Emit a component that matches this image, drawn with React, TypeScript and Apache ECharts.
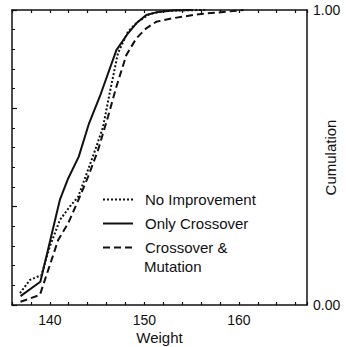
import React, { useEffect, useRef } from "react";
import * as echarts from "echarts";

const seriesNames = ["No Improvement", "Only Crossover", "Crossover & Mutation"];

const noImprovement: [number, number][] = [
  [136.84, 0.04], [137.9, 0.085], [138.85, 0.098], [139.1, 0.1], [140.0, 0.198],
  [141.06, 0.288], [142.1, 0.333], [143.0, 0.367], [143.9, 0.446], [144.93, 0.537],
  [145.63, 0.604], [146.33, 0.718], [147.2, 0.853], [148.27, 0.927], [149.3, 0.96],
  [150.55, 0.986], [152.0, 0.996], [154.0, 0.999], [156.6, 1.0],
];

const onlyCrossover: [number, number][] = [
  [136.9, 0.03], [139.0, 0.079], [141.06, 0.356], [141.94, 0.429], [143.06, 0.503],
  [144.15, 0.616], [145.28, 0.706], [147.04, 0.864], [148.27, 0.921], [149.15, 0.955],
  [150.2, 0.983], [151.25, 0.992], [153.0, 0.998], [155.0, 1.0],
];

const crossoverMutation: [number, number][] = [
  [136.9, 0.011], [138.95, 0.034], [139.48, 0.085], [140.88, 0.22], [141.94, 0.277],
  [143.17, 0.367], [144.05, 0.435], [145.1, 0.525], [146.15, 0.638], [147.04, 0.74],
  [148.09, 0.847], [149.15, 0.904], [150.2, 0.938], [151.25, 0.96], [153.0, 0.972],
  [155.8, 0.986], [158.6, 0.994], [160.5, 1.0],
];

const xMajorLabels = [140, 150, 160];
const yLabels = ["0.00", "1.00"];

const FONT = "'Liberation Sans', Arial, Helvetica, sans-serif";
const INK = "#111";

export default function App() {
  const ref = useRef<HTMLDivElement>(null);

  useEffect(() => {
    if (!ref.current) return;
    const chart = echarts.init(ref.current, undefined, { renderer: "svg" });
    const lineBase = { type: "line", showSymbol: false, symbol: "none", smooth: false };
    const xCommon = {
      type: "value",
      min: 136,
      max: 167.2,
      interval: 2,
      axisLine: { show: true, onZero: false, lineStyle: { color: INK, width: 1.5 } },
      axisTick: { show: true, inside: true, length: 3, lineStyle: { color: INK, width: 1.2 } },
      splitLine: { show: false },
    };
    chart.setOption({
      animation: false,
      backgroundColor: "#fff",
      grid: { left: 12, right: 39, top: 10, bottom: 42, containLabel: false, outerBoundsMode: "none" },
      xAxis: [
        {
          ...xCommon,
          position: "bottom",
          name: "Weight",
          nameLocation: "middle",
          nameGap: 25,
          nameMoveOverlap: false,
          nameTextStyle: { fontFamily: FONT, fontSize: 15, color: INK },
          axisLabel: {
            show: true,
            margin: 8,
            fontFamily: FONT,
            fontSize: 14,
            color: INK,
            formatter: (v: number) => (xMajorLabels.includes(Math.round(v)) && Math.abs(v - Math.round(v)) < 1e-6 ? String(Math.round(v)) : ""),
          },
        },
        {
          ...xCommon,
          position: "top",
          axisLabel: { show: false },
        },
      ],
      yAxis: [
        {
          type: "value",
          min: 0,
          max: 1,
          interval: 1 / 3,
          position: "left",
          axisLine: { show: true, lineStyle: { color: INK, width: 1.5 } },
          axisTick: { show: true, inside: true, length: 5, lineStyle: { color: INK, width: 1.2 } },
          minorTick: { show: true, splitNumber: 5, length: 3, lineStyle: { color: INK, width: 1 } },
          axisLabel: { show: false },
          splitLine: { show: false },
          minorSplitLine: { show: false },
        },
        {
          type: "value",
          min: 0,
          max: 1,
          interval: 1,
          position: "right",
          name: "Cumulation",
          nameLocation: "middle",
          nameRotate: 90,
          nameGap: 16,
          nameMoveOverlap: false,
          nameTextStyle: { fontFamily: FONT, fontSize: 15, color: INK },
          axisLine: { show: true, lineStyle: { color: INK, width: 1.5 } },
          axisTick: { show: false },
          axisLabel: {
            show: true,
            margin: 6,
            fontFamily: FONT,
            fontSize: 14,
            color: INK,
            formatter: (v: number) => (v < 0.5 ? yLabels[0] : yLabels[1]),
          },
          splitLine: { show: false },
        },
      ],
      legend: {
        orient: "vertical",
        left: 102,
        top: 191,
        padding: 0,
        itemWidth: 30,
        itemHeight: 14,
        itemGap: 7,
        data: seriesNames,
        itemStyle: { opacity: 0 },
        formatter: (name: string) => (name === "Crossover & Mutation" ? "Crossover &" : name),
        textStyle: { fontFamily: FONT, fontSize: 15, color: INK, lineHeight: 17, padding: [0, 0, 0, 7] },
        selectedMode: false,
      },
      graphic: [
        {
          type: "text",
          left: 144,
          top: 259,
          style: { text: "Mutation", fontFamily: FONT, fontSize: 15, fill: INK },
          silent: true,
        },
      ],
      series: [
        {
          ...lineBase,
          name: seriesNames[0],
          data: noImprovement,
          lineStyle: { color: INK, width: 2, type: [2, 2] },
          itemStyle: { color: INK },
        },
        {
          ...lineBase,
          name: seriesNames[1],
          data: onlyCrossover,
          lineStyle: { color: INK, width: 2, type: "solid" },
          itemStyle: { color: INK },
        },
        {
          ...lineBase,
          name: seriesNames[2],
          data: crossoverMutation,
          lineStyle: { color: INK, width: 2, type: [7, 4] },
          itemStyle: { color: INK },
        },
      ],
    });
    return () => chart.dispose();
  }, []);

  return (
    <div
      ref={ref}
      style={{ position: "fixed", left: 0, top: 0, width: 346, height: 347, background: "#fff" }}
    />
  );
}
